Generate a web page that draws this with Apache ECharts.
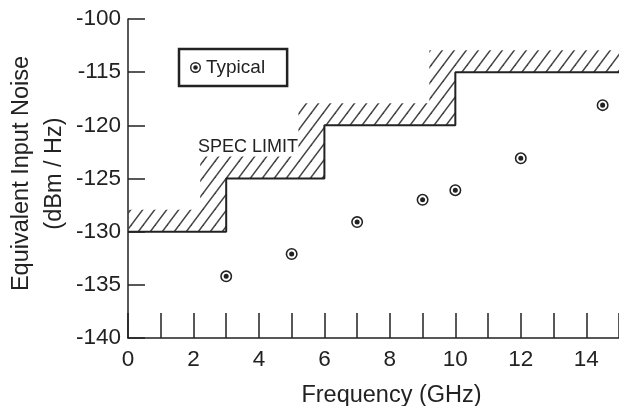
<!DOCTYPE html>
<html><head><meta charset="utf-8">
<script src="https://cdn.jsdelivr.net/npm/echarts@6/dist/echarts.min.js"></script>
<style>html,body{margin:0;padding:0;background:#fff}#c{width:619px;height:406px}</style>
</head><body><div id="c"></div>
<script>
// ---- data ----
const specFreq = [0, 3, 6, 10, 15];
const specLimit = [-130, -125, -120, -115, -115];
const typFreq = [3, 5, 7, 9, 10, 12, 14.5];
const typNoise = [-134.2, -132.1, -129.1, -127.0, -126.1, -123.1, -118.1];
const xTickValues = [0, 1, 2, 3, 4, 5, 6, 7, 8, 9, 10, 11, 12, 13, 14, 15];
const xLabelValues = [0, 2, 4, 6, 8, 10, 12, 14];
const yTickValues = [-140, -135, -130, -125, -120, -115, -110];
const yTickLabels = ['-140', '-135', '-130', '-125', '-120', '-115', '-100'];
const seriesName = 'Typical';
const specText = 'SPEC LIMIT';

// ---- styling ----
const FONT = "'Liberation Sans', Arial, sans-serif";
const INK = '#222';
const markerPath = 'path://M10 0A10 10 0 1 1 10 20A10 10 0 1 1 10 0Z M10 2.6A7.4 7.4 0 1 0 10 17.4A7.4 7.4 0 1 0 10 2.6Z M10 5.8A4.2 4.2 0 1 1 10 14.2A4.2 4.2 0 1 1 10 5.8Z';

function makeHatch() {
  const c = document.createElement('canvas');
  c.width = 12; c.height = 16;
  const g = c.getContext('2d');
  g.strokeStyle = '#444';
  g.lineWidth = 1.5;
  for (let k = -1; k <= 1; k++) {
    g.beginPath();
    g.moveTo(-3, 16 + 4 + 16 * k);
    g.lineTo(15, 16 - 20 + 16 * k);
    g.stroke();
  }
  return c;
}
const hatch = makeHatch();

const chart = echarts.init(document.getElementById('c'), null, {renderer: 'canvas'});

const specData = specFreq.map((f, i) => [f, specLimit[i]]);
const typData = typFreq.map((f, i) => [f, typNoise[i]]);

chart.setOption({
  animation: false,
  backgroundColor: '#fff',
  textStyle: {fontFamily: FONT},
  grid: {left: 128, right: 0, top: 19, bottom: 68, containLabel: false, outerBoundsMode: 'none'},
  legend: {
    data: [{name: seriesName, icon: markerPath}],
    left: 179, top: 49,
    itemWidth: 11, itemHeight: 11,
    padding: [9, 22, 9, 11],
    borderColor: INK, borderWidth: 2.5, borderRadius: 0,
    selectedMode: false,
    textStyle: {fontSize: 19, color: INK, fontFamily: FONT}
  },
  xAxis: {
    type: 'value', min: 0, max: 15,
    name: 'Frequency (GHz)', nameLocation: 'middle', nameGap: 46,
    nameTextStyle: {fontSize: 23.5, color: INK, fontFamily: FONT, padding: [0, 0, 0, 36]},
    axisLine: {show: true, lineStyle: {color: INK, width: 1.5}},
    axisTick: {show: true, inside: true, length: 25, customValues: xTickValues, lineStyle: {color: INK, width: 1.5}},
    axisLabel: {customValues: xLabelValues, fontSize: 22.5, color: INK, margin: 10, fontFamily: FONT},
    splitLine: {show: false}
  },
  yAxis: {
    type: 'value', min: -140, max: -110,
    name: 'Equivalent Input Noise\n(dBm / Hz)', nameLocation: 'middle', nameGap: 57,
    nameMoveOverlap: false,
    nameTextStyle: {fontSize: 23.5, lineHeight: 33, color: INK, fontFamily: FONT, padding: [0, 0, 0, 10]},
    axisLine: {show: true, lineStyle: {color: INK, width: 1.5}},
    axisTick: {show: true, inside: true, length: 17, customValues: yTickValues, lineStyle: {color: INK, width: 1.5}},
    axisLabel: {
      customValues: yTickValues, fontSize: 22.5, color: INK, margin: 7, fontFamily: FONT,
      formatter: v => { const i = yTickValues.indexOf(v); return i >= 0 ? yTickLabels[i] : ''; }
    },
    splitLine: {show: false}
  },
  graphic: [{
    type: 'text', left: 198, top: 138,
    style: {text: specText, fontSize: 18, fill: INK, font: '18px ' + FONT}
  }],
  series: [
    {
      type: 'custom', name: 'hatch', silent: true, z: 1,
      data: [[0, -130]],
      renderItem: function (params, api) {
        const W = 26, H = 22;
        const p = specFreq.map((f, i) => api.coord([f, specLimit[i]]));
        const n = p.length - 1; // segments
        const outer = [];
        const inner = [];
        outer.push([p[0][0], p[0][1] - H]);
        for (let i = 0; i < n - 1; i++) {
          outer.push([p[i + 1][0] - W, p[i][1] - H]);
          outer.push([p[i + 1][0] - W, p[i + 1][1] - H]);
        }
        outer.push([p[n][0], p[n - 1][1] - H]);
        inner.push([p[0][0], p[0][1]]);
        for (let i = 0; i < n; i++) {
          inner.push([p[i + 1][0], p[i][1]]);
          if (i < n - 1) inner.push([p[i + 1][0], p[i + 1][1]]);
        }
        const poly = outer.concat(inner.reverse());
        return {
          type: 'polygon',
          shape: {points: poly},
          style: {fill: {image: hatch, repeat: 'repeat'}, stroke: null}
        };
      }
    },
    {
      type: 'line', name: 'Spec', data: specData, step: 'end',
      symbol: 'none', silent: true, z: 3,
      lineStyle: {color: INK, width: 2}
    },
    {
      type: 'scatter', name: seriesName, data: typData,
      symbol: markerPath, symbolSize: 12, z: 4,
      itemStyle: {color: INK, opacity: 1}
    }
  ]
});
</script></body></html>
